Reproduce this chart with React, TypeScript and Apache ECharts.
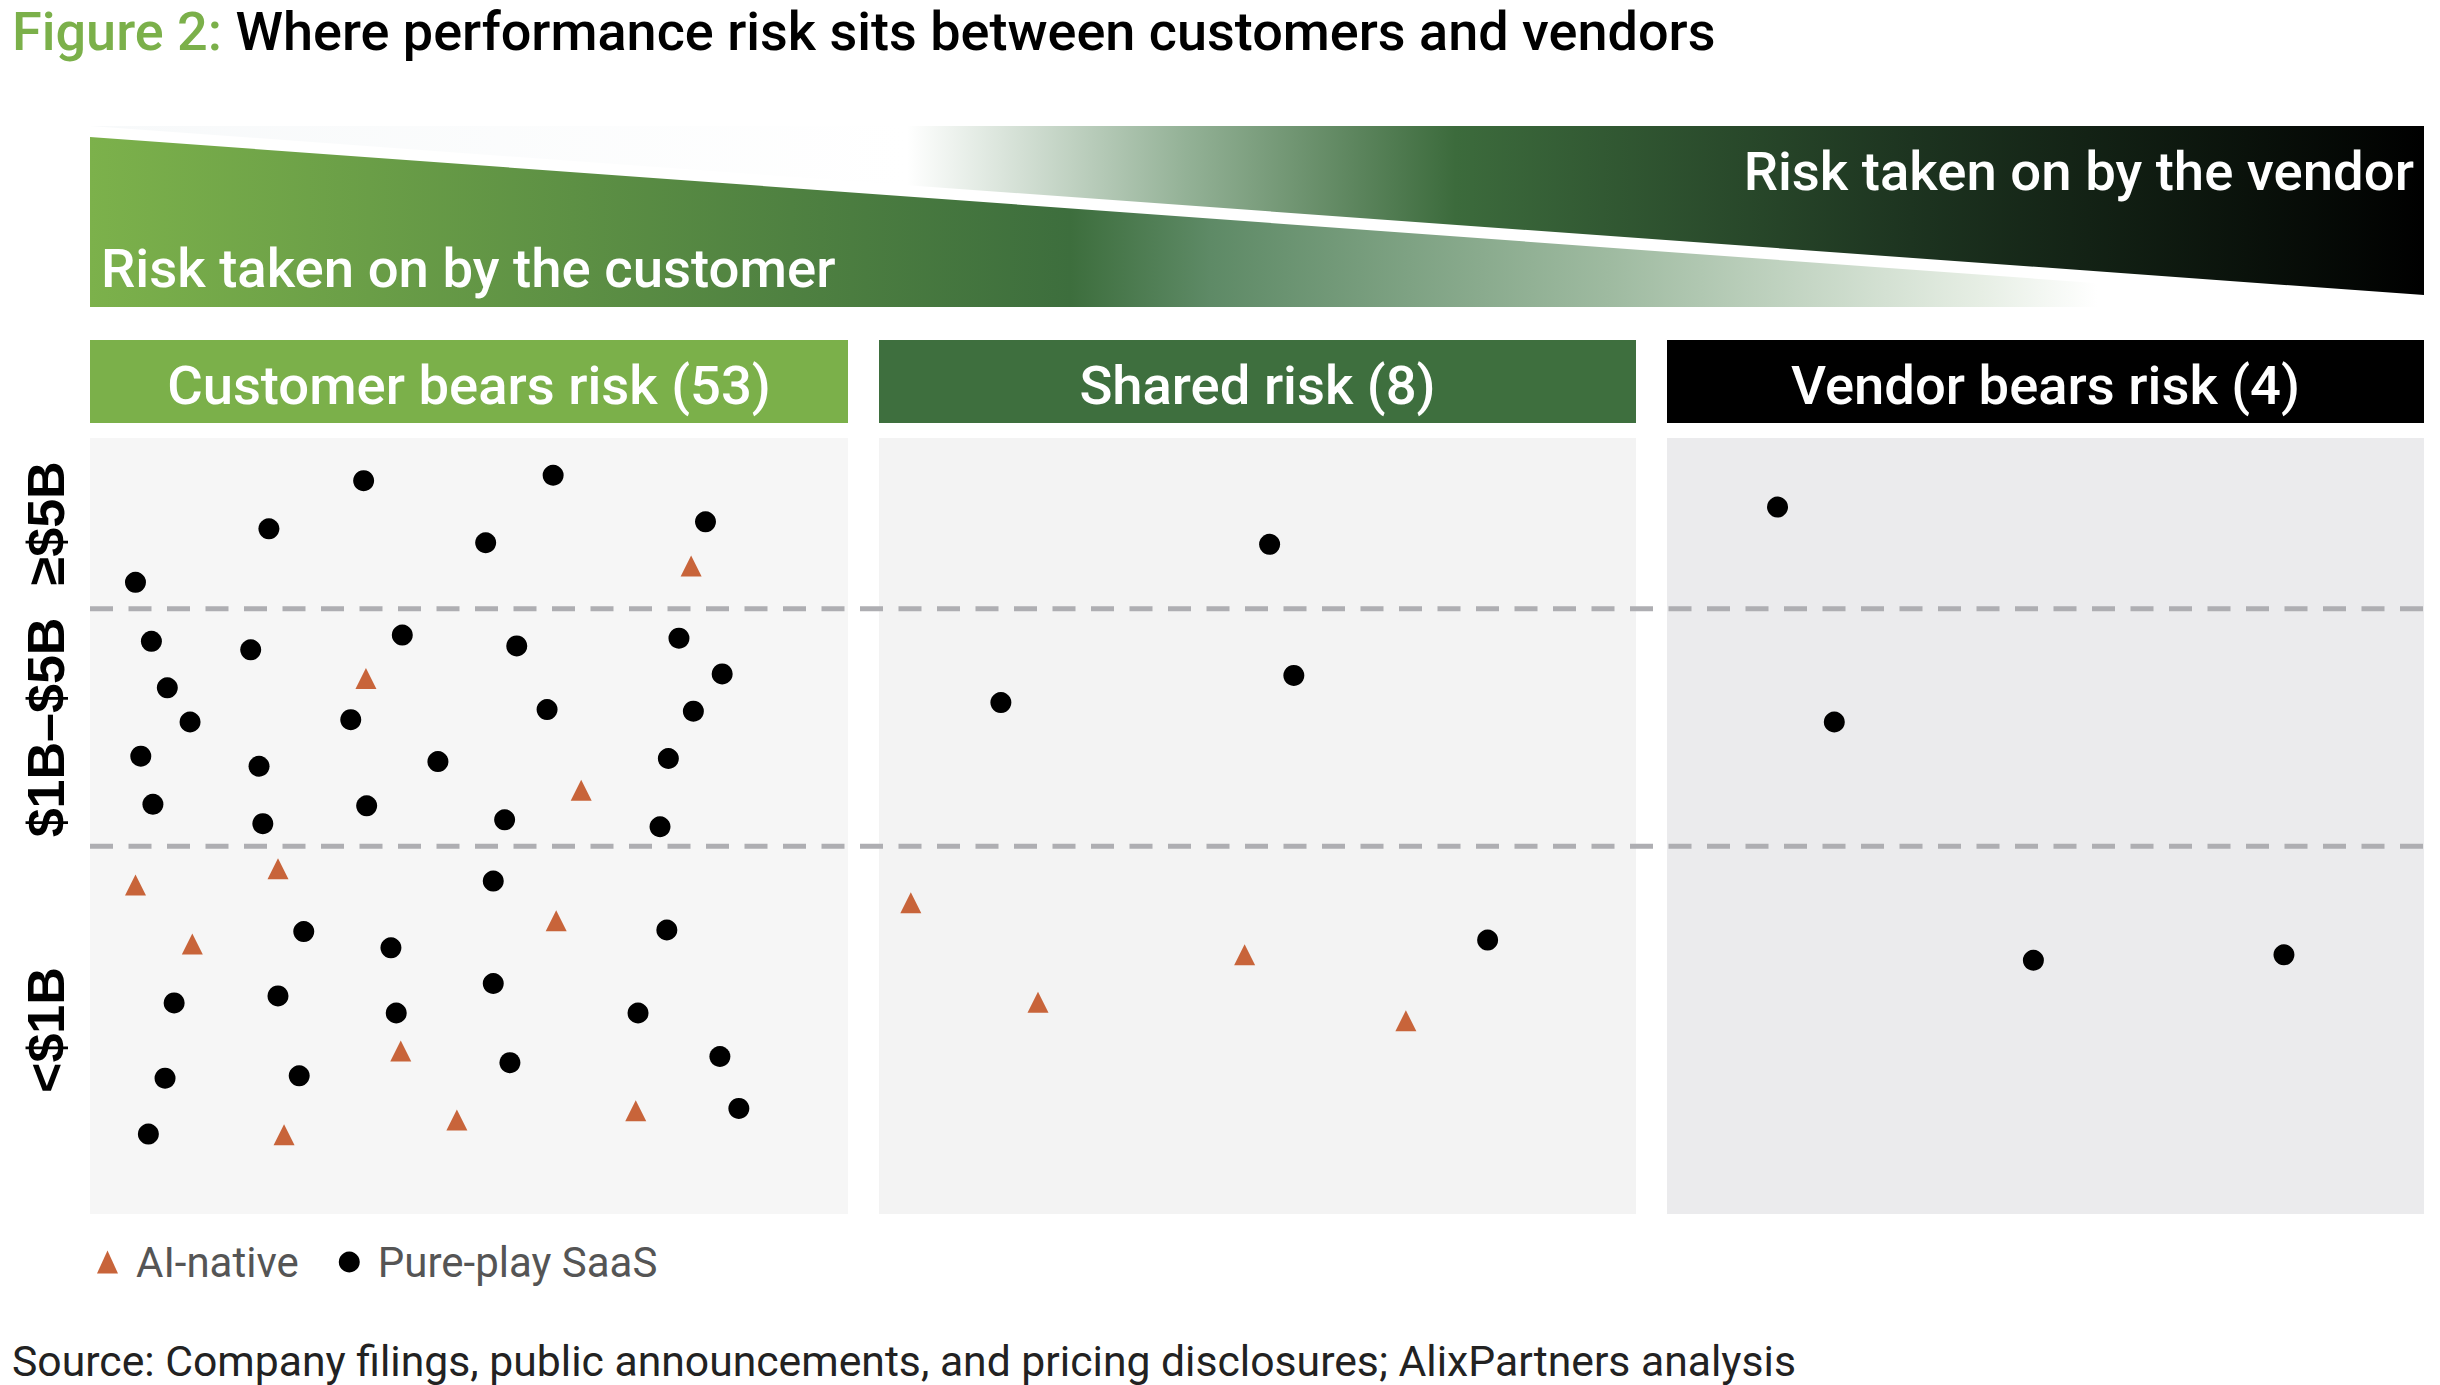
import React, { useEffect, useRef } from "react";
import * as echarts from "echarts";

// ---------------- data ----------------
const titleLead = "Figure 2:";
const titleText = "Where performance risk sits between customers and vendors";
const sourceText =
  "Source: Company filings, public announcements, and pricing disclosures; AlixPartners analysis";
const customerRiskLabel = "Risk taken on by the customer";
const vendorRiskLabel = "Risk taken on by the vendor";
const panelTitles = ["Customer bears risk (53)", "Shared risk (8)", "Vendor bears risk (4)"];
const bandLabels = ["<$1B", "$1B–$5B", "≥$5B"]; // bottom → top
const bandEdges = [0, 47.4, 78.0, 100]; // revenue-band boundaries on the 0–100 vertical scale
const seriesNames = ["AI-native", "Pure-play SaaS"];

// [x, y] positions inside each panel (0–100 on both axes)
const customerAI = [
  [79.3, 83.5], [36.4, 69.0], [64.8, 54.6], [6.0, 42.4], [24.8, 44.5], [61.5, 37.8],
  [13.5, 34.8], [41.0, 21.0], [72.0, 13.3], [48.4, 12.1], [25.6, 10.2],
];
const customerSaaS = [
  [36.1, 94.5], [61.1, 95.2], [23.6, 88.3], [52.2, 86.5], [81.2, 89.2], [6.0, 81.4],
  [8.1, 73.8], [21.2, 72.7], [41.2, 74.6], [56.3, 73.2], [77.7, 74.2], [10.2, 67.8],
  [83.4, 69.6], [13.2, 63.4], [34.4, 63.7], [60.3, 65.0], [79.6, 64.8], [6.7, 59.0],
  [22.3, 57.7], [45.9, 58.3], [76.3, 58.7], [8.3, 52.8], [36.5, 52.6], [22.8, 50.3],
  [54.7, 50.8], [75.2, 49.9], [53.2, 42.9], [28.2, 36.4], [39.7, 34.3], [76.1, 36.6],
  [53.2, 29.7], [11.1, 27.2], [24.8, 28.1], [40.4, 25.9], [72.3, 25.9], [55.4, 19.5],
  [83.1, 20.3], [9.9, 17.5], [27.6, 17.8], [85.6, 13.6], [7.7, 10.3],
];
const sharedAI = [[4.2, 40.1], [21.0, 27.3], [48.3, 33.4], [69.6, 24.9]];
const sharedSaaS = [[51.6, 86.3], [54.8, 69.4], [16.1, 65.9], [80.4, 35.3]];
const vendorAI: number[][] = [];
const vendorSaaS = [[14.6, 91.1], [22.1, 63.4], [48.4, 32.7], [81.5, 33.4]];

// ---------------- layout / style ----------------
const W = 2440;
const H = 1385;
const PLOT_TOP = 438;
const PLOT_H = 776;
const PANELS = [
  { left: 90, width: 758 },
  { left: 879, width: 757 },
  { left: 1667, width: 757 },
];
const FULL_LEFT = 90;
const FULL_RIGHT = 2424;
const PANEL_BG = ["#f6f6f6", "#f3f3f3", "#ebebed"];
const HEADER_BG = ["#7bb04a", "#3e6f3e", "#000000"];
const HEADER_TOP = 340;
const HEADER_H = 83;
const ORANGE = "#c8643a";
const FONT = "Roboto";

export default function App() {
  const ref = useRef<HTMLDivElement>(null);

  useEffect(() => {
    document.body.style.margin = "0";
    if (!ref.current) return;
    const chart = echarts.init(ref.current, undefined, { renderer: "svg" });

    const bandCenters = bandLabels.map((_, i) => (bandEdges[i] + bandEdges[i + 1]) / 2);
    const thresholds = bandEdges.slice(1, -1);

    const panelData = [
      [customerAI, customerSaaS],
      [sharedAI, sharedSaaS],
      [vendorAI, vendorSaaS],
    ];

    const grids: any[] = PANELS.map((p, i) => ({
      left: p.left,
      width: p.width,
      top: PLOT_TOP,
      height: PLOT_H,
      show: true,
      backgroundColor: PANEL_BG[i],
      borderWidth: 0,
    }));
    grids.push({
      left: FULL_LEFT,
      width: FULL_RIGHT - FULL_LEFT,
      top: PLOT_TOP,
      height: PLOT_H,
      show: false,
    });

    const xAxes = grids.map((_, i) => ({
      gridIndex: i,
      type: "value",
      min: 0,
      max: 100,
      show: false,
    }));
    const yAxes: any[] = grids.map((_, i) => ({
      gridIndex: i,
      type: "value",
      min: 0,
      max: 100,
      show: false,
    }));
    yAxes[3] = {
      gridIndex: 3,
      type: "value",
      min: 0,
      max: 100,
      show: true,
      axisLine: { show: false },
      axisTick: { show: false },
      splitLine: { show: false },
      axisLabel: {
        customValues: bandCenters,
        rotate: 90,
        margin: 18,
        fontSize: 52,
        fontWeight: "bold",
        fontFamily: "Liberation Sans",
        color: "#000",
        formatter: (v: number) => {
          let best = 0;
          bandCenters.forEach((c, i) => {
            if (Math.abs(c - v) < Math.abs(bandCenters[best] - v)) best = i;
          });
          return bandLabels[best];
        },
      },
    };

    const series: any[] = [];
    thresholds.forEach((t) => {
      series.push({
        type: "line",
        xAxisIndex: 3,
        yAxisIndex: 3,
        data: [[0, t], [100, t]],
        showSymbol: false,
        silent: true,
        lineStyle: { color: "#aeaeb2", width: 5, type: [23, 15.5] },
        z: 1,
      });
    });
    panelData.forEach(([ai, saas], i) => {
      series.push({
        name: seriesNames[0],
        type: "scatter",
        xAxisIndex: i,
        yAxisIndex: i,
        data: ai,
        symbol: "triangle",
        symbolSize: 21,
        itemStyle: { color: ORANGE, opacity: 1 },
        z: 3,
      });
      series.push({
        name: seriesNames[1],
        type: "scatter",
        xAxisIndex: i,
        yAxisIndex: i,
        data: saas,
        symbol: "circle",
        symbolSize: 21,
        itemStyle: { color: "#000", opacity: 1 },
        z: 3,
      });
    });

    const graphic: any[] = [
      // vendor (upper-right) wedge
      {
        type: "polygon",
        shape: {
          points: [
            [FULL_LEFT, 126],
            [FULL_RIGHT, 126],
            [FULL_RIGHT, 295],
          ],
        },
        style: {
          fill: {
            type: "linear",
            x: 0,
            y: 0,
            x2: 1,
            y2: 0,
            colorStops: [
              { offset: 0, color: "#f7f9fa" },
              { offset: 0.35, color: "#ffffff" },
              { offset: 0.47, color: "#93b196" },
              { offset: 0.585, color: "#3c6b3c" },
              { offset: 0.78, color: "#1d3420" },
              { offset: 1, color: "#000000" },
            ],
          },
        },
        silent: true,
      },
      // customer (lower-left) wedge
      {
        type: "polygon",
        shape: {
          points: [
            [FULL_LEFT, 137],
            [FULL_LEFT, 307],
            [FULL_RIGHT, 307],
          ],
        },
        style: {
          fill: {
            type: "linear",
            x: 0,
            y: 0,
            x2: 1,
            y2: 0,
            colorStops: [
              { offset: 0, color: "#7cb14b" },
              { offset: 0.42, color: "#3d6e3d" },
              { offset: 0.48, color: "#5e8a66" },
              { offset: 0.65, color: "#9ebaa0" },
              { offset: 0.81, color: "#e6eee4" },
              { offset: 0.86, color: "#ffffff" },
              { offset: 1, color: "#ffffff" },
            ],
          },
        },
        silent: true,
      },
      {
        type: "text",
        x: 101,
        y: 268,
        style: {
          text: customerRiskLabel,
          fill: "#fff",
          fontSize: 54.5,
          fontWeight: 500,
          fontFamily: FONT,
          align: "left",
          verticalAlign: "middle",
        },
        silent: true,
      },
      {
        type: "text",
        x: 2414,
        y: 171,
        style: {
          text: vendorRiskLabel,
          fill: "#fff",
          fontSize: 54.5,
          fontWeight: 500,
          fontFamily: FONT,
          align: "right",
          verticalAlign: "middle",
        },
        silent: true,
      },
      {
        type: "text",
        x: 12,
        y: 1361,
        style: {
          text: sourceText,
          fill: "#222",
          fontSize: 42.7,
          fontWeight: 400,
          fontFamily: FONT,
          align: "left",
          verticalAlign: "middle",
        },
        silent: true,
      },
    ];
    PANELS.forEach((p, i) => {
      graphic.push({
        type: "rect",
        shape: { x: p.left, y: HEADER_TOP, width: p.width, height: HEADER_H },
        style: { fill: HEADER_BG[i] },
        silent: true,
      });
      graphic.push({
        type: "text",
        x: p.left + p.width / 2,
        y: 385,
        style: {
          text: panelTitles[i],
          fill: "#fff",
          fontSize: 54.4,
          fontWeight: 500,
          fontFamily: FONT,
          align: "center",
          verticalAlign: "middle",
        },
        silent: true,
      });
    });

    chart.setOption({
      animation: false,
      backgroundColor: "#ffffff",
      title: {
        text: `{g|${titleLead}}{k| ${titleText}}`,
        left: 12,
        top: 4,
        padding: 0,
        textStyle: {
          rich: {
            g: { color: "#7bb04a", fontSize: 54, fontWeight: 500, fontFamily: FONT, lineHeight: 54 },
            k: { color: "#000", fontSize: 54, fontWeight: 500, fontFamily: FONT, lineHeight: 54 },
          },
        },
      },
      legend: {
        data: [
          { name: seriesNames[0], icon: "triangle" },
          { name: seriesNames[1], icon: "circle" },
        ],
        left: 97,
        top: 1241,
        padding: 0,
        itemWidth: 21,
        itemHeight: 23,
        itemGap: 40,
        selectedMode: false,
        textStyle: { fontSize: 42, color: "#555", fontFamily: FONT, padding: [0, 0, 0, 13] },
      },
      grid: grids,
      xAxis: xAxes,
      yAxis: yAxes,
      series,
      graphic,
    });

    return () => chart.dispose();
  }, []);

  return <div ref={ref} style={{ width: W, height: H }} />;
}
